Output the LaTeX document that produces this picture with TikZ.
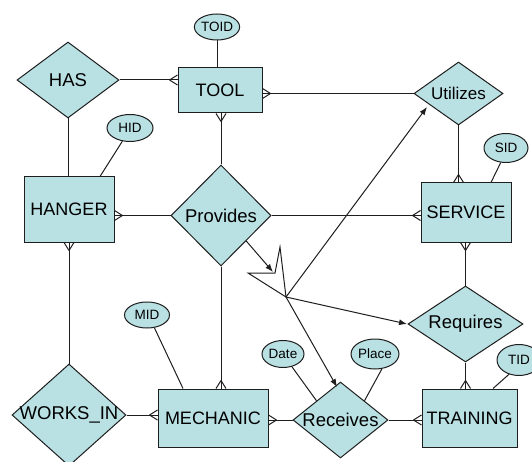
\documentclass[tikz,border=0pt]{standalone}
\usepackage{fontspec}
\setmainfont{Liberation Sans}
\usetikzlibrary{shapes.geometric,arrows.meta,calc}
\definecolor{erfill}{RGB}{185,224,227}
\definecolor{erline}{RGB}{30,30,30}
\begin{document}
\begin{tikzpicture}[x=1pt,y=-1pt,
  base/.style={draw=erline,fill=erfill,line width=1pt,inner sep=0pt},
  ent/.style={base,rectangle,font=\fontsize{18}{18}\selectfont},
  rel/.style={base,diamond,font=\fontsize{18.5}{18.5}\selectfont},
  attr/.style={base,ellipse,font=\fontsize{13.5}{13.5}\selectfont},
  edge/.style={draw=erline,line width=1pt},
  arr/.style={edge,-{Latex[length=8pt,width=6pt]}},
  crow/.pic={\draw[edge] (-8,0) -- (0,-5) (-8,0) -- (0,5);}
]
\useasboundingbox (0,0) rectangle (532,462);
\fill[white] (0,0) rectangle (532,462);

% entities
\node[ent,minimum width=84pt,minimum height=45pt] (tool) at (220,90.5) {TOOL};
\node[ent,minimum width=90pt,minimum height=65pt] (hanger) at (69,209.5) {HANGER};
\node[ent,minimum width=90pt,minimum height=59pt] (service) at (466,212.5) {SERVICE};
\node[ent,minimum width=95pt,minimum height=58pt] (training) at (469.5,418) {TRAINING};
\node[ent,minimum width=110pt,minimum height=58pt] (mechanic) at (213,418) {MECHANIC};

% relationships
\node[rel,minimum width=102pt,minimum height=76pt] (has) at (68,80) {\makebox[0pt]{HAS}};
\node[rel,minimum width=100pt,minimum height=101pt] (provides) at (221,215.5) {\makebox[0pt]{Provides}};
\node[rel,minimum width=89pt,minimum height=63pt,font=\fontsize{17}{17}\selectfont] (utilizes) at (458.5,93.5) {\makebox[0pt]{Utilizes}};
\node[rel,minimum width=115pt,minimum height=76pt] (requires) at (465.5,324) {\makebox[0pt]{Requires}};
\node[rel,minimum width=95pt,minimum height=76pt] (receives) at (340.5,420) {\makebox[0pt]{Receives}};
\node[rel,minimum width=114pt,minimum height=102pt] (worksin) at (69,415) {\makebox[0pt]{WORKS\_IN}};

% attributes
\node[attr,minimum width=44pt,minimum height=26pt] (toid) at (217,27) {TOID};
\node[attr,minimum width=46pt,minimum height=27pt] (hid) at (130,128) {HID};
\node[attr,minimum width=44pt,minimum height=29pt] (sid) at (506,148) {SID};
\node[attr,minimum width=44pt,minimum height=31pt] (tid) at (519,360) {TID};
\node[attr,minimum width=42pt,minimum height=27pt] (date) at (283,354) {Date};
\node[attr,minimum width=48pt,minimum height=30pt] (place) at (375,354) {Place};
\node[attr,minimum width=45pt,minimum height=26pt] (mid) at (147,315) {MID};

% attribute links
\draw[edge] (toid.south) -- (toid.south |- tool.north);
\draw[edge] (hid.240) -- ([xshift=31pt]hanger.north);
\draw[edge] (sid.250) -- ([xshift=25pt]service.north);
\draw[edge] (tid.235) -- ([xshift=23.5pt]training.north);
\draw[edge] (date.305) -- (receives.north west);
\draw[edge] (place.295) -- (receives.north east);
\draw[edge] (mid.300) -- ([xshift=-30pt]mechanic.north);

% relationship links
\draw[edge] (has.east) -- (has.east -| tool.west);
\pic at (has.east -| tool.west) {crow};
\draw[edge] (has.south) -- (has.south |- hanger.north);
\draw[edge] (provides.west) -- (provides.west -| hanger.east);
\pic[rotate=180] at (provides.west -| hanger.east) {crow};
\draw[edge] (provides.north) -- (provides.north |- tool.south);
\pic[rotate=90] at (provides.north |- tool.south) {crow};
\draw[edge] (utilizes.west) -- (utilizes.west -| tool.east);
\pic[rotate=180] at (utilizes.west -| tool.east) {crow};
\draw[edge] (utilizes.south) -- (utilizes.south |- service.north);
\pic[rotate=-90] at (utilizes.south |- service.north) {crow};
\draw[edge] (provides.east) -- (provides.east -| service.west);
\pic at (provides.east -| service.west) {crow};
\draw[edge] (requires.north) -- (requires.north |- service.south);
\pic[rotate=90] at (requires.north |- service.south) {crow};
\draw[edge] (requires.south) -- (requires.south |- training.north);
\pic[rotate=-90] at (requires.south |- training.north) {crow};
\draw[edge] (receives.east) -- (receives.east -| training.west);
\pic at (receives.east -| training.west) {crow};
\draw[edge] (receives.west) -- (receives.west -| mechanic.east);
\pic[rotate=180] at (receives.west -| mechanic.east) {crow};
\draw[edge] (provides.south) -- (provides.south |- mechanic.north);
\pic[rotate=-90] at (provides.south |- mechanic.north) {crow};
\draw[edge] (hanger.south) -- (hanger.south |- worksin.north);
\pic[rotate=90] at (hanger.south) {crow};
\draw[edge] (worksin.east) -- (worksin.east -| mechanic.west);
\pic at (worksin.east -| mechanic.west) {crow};

% lightning and arrows
\coordinate (bolt) at (273,272);
\coordinate (hub) at (286,297);
\coordinate (utip) at (427,107);
\coordinate (rqtip) at (407,324);
\coordinate (rctip) at (337,387);
\draw[arr] (provides.south east) -- (bolt);
\draw[edge,line join=miter] (248,273) -- (275,273) -- (280,247) -- (hub) -- cycle;
\draw[arr] (hub) -- (utip);
\draw[arr] (hub) -- (rqtip);
\draw[arr] (hub) -- (rctip);
\end{tikzpicture}
\end{document}
